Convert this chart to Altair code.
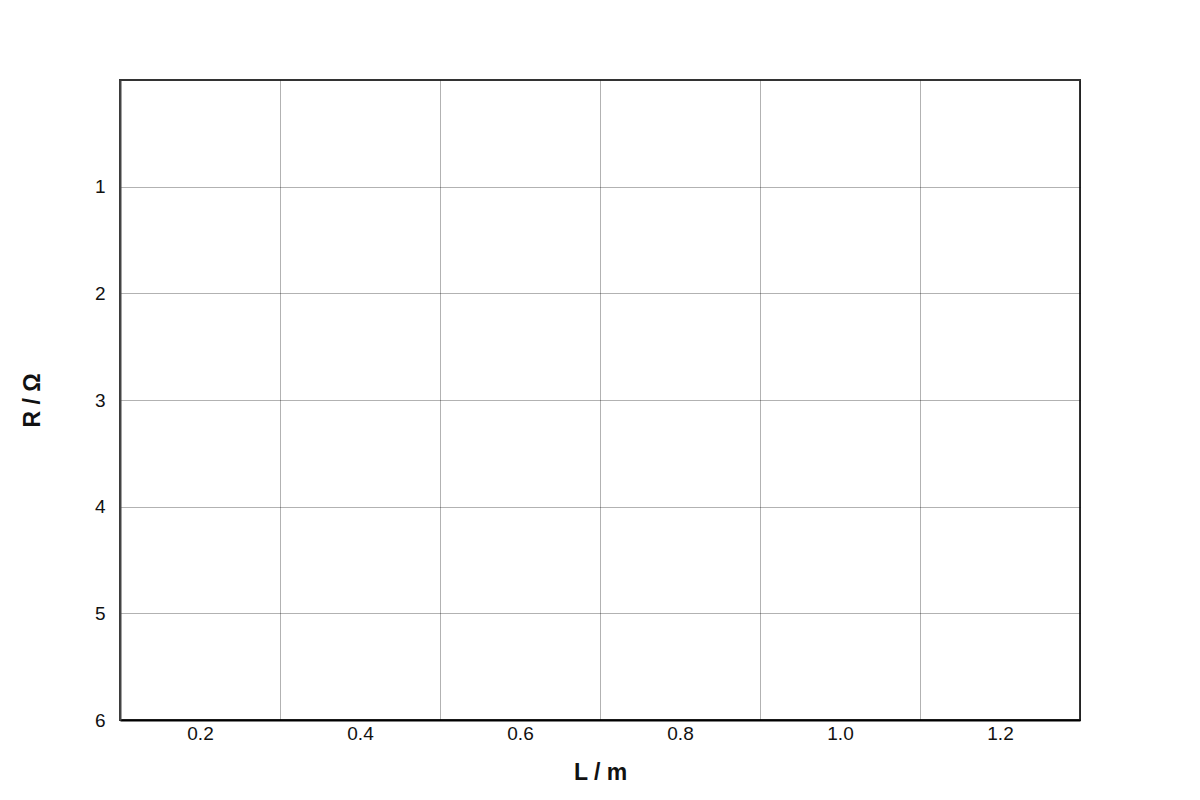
import altair as alt
import pandas as pd

x_labels = ["0.2", "0.4", "0.6", "0.8", "1.0", "1.2"]
y_ticks = [1, 2, 3, 4, 5, 6]
y_domain = [0, 6]

df = pd.DataFrame({"L": x_labels, "R": [None] * len(x_labels)})

FONT = "Liberation Sans"

chart = (
    alt.Chart(df)
    .mark_point(opacity=0)
    .encode(
        x=alt.X(
            "L:O",
            scale=alt.Scale(domain=x_labels, paddingInner=0, paddingOuter=0),
            axis=alt.Axis(
                title="L / m",
                labelAngle=0,
                ticks=False,
                tickBand="extent",
                grid=True,
                gridColor="#000000",
                gridOpacity=0.3,
                gridWidth=1,
                domainColor="#000000",
                domainWidth=2,
                labelFont=FONT,
                labelFontSize=19,
                labelColor="#111111",
                labelPadding=4,
                titleFont=FONT,
                titleFontSize=23,
                titleFontWeight="bold",
                titleColor="#111111",
                titleX=480,
                titleY=52,
                titleBaseline="middle",
            ),
        ),
        y=alt.Y(
            "R:Q",
            scale=alt.Scale(domain=y_domain, reverse=True, nice=False, zero=False),
            axis=alt.Axis(
                title="R / Ω",
                values=y_ticks,
                ticks=False,
                grid=True,
                gridColor="#000000",
                gridOpacity=0.3,
                gridWidth=1,
                domainColor="#444444",
                domainWidth=2,
                labelFont=FONT,
                labelFontSize=19,
                labelColor="#111111",
                labelPadding=15,
                titleFont=FONT,
                titleFontSize=23,
                titleFontWeight="bold",
                titleColor="#111111",
                titleX=-88,
                titleY=320,
                titleBaseline="middle",
                titleAngle=270,
            ),
        ),
    )
    .properties(
        width=960,
        height=640,
        autosize=alt.AutoSizeParams(type="none"),
        padding={"left": 112, "top": 72, "right": 112, "bottom": 72},
    )
    .configure_view(stroke="#333333", strokeWidth=2)
)

chart.save("out.html", embed_options={"renderer": "svg", "actions": False})
